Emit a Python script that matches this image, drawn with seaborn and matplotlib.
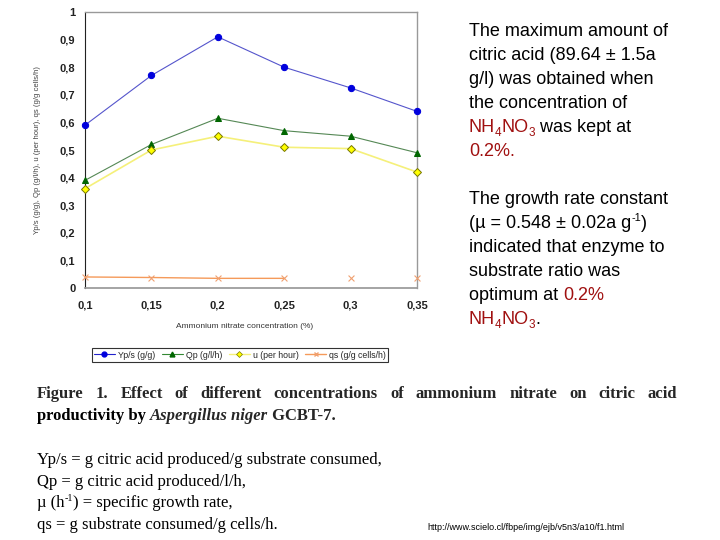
import matplotlib
matplotlib.use("Agg")
import matplotlib.pyplot as plt
import seaborn as sns
import pandas as pd
import numpy as np
from matplotlib.lines import Line2D

# ---- data ----
conc = [0.10, 0.15, 0.20, 0.25, 0.30, 0.35]
yps = [0.59, 0.77, 0.91, 0.80, 0.725, 0.64]
qp = [0.39, 0.52, 0.615, 0.57, 0.55, 0.49]
mu = [0.36, 0.50, 0.55, 0.51, 0.505, 0.42]
qs = [0.040, 0.038, 0.035, 0.035, 0.035, 0.035]
series_names = ["Yp/s (g/g)", "Qp (g/l/h)", "u (per hour)", "qs (g/g cells/h)"]
x_ticks = [0.1, 0.15, 0.2, 0.25, 0.3, 0.35]
y_ticks = [0, 0.1, 0.2, 0.3, 0.4, 0.5, 0.6, 0.7, 0.8, 0.9, 1.0]

sns.set_theme(style="white")
plt.rcParams["font.family"] = ["Liberation Sans", "DejaVu Sans"]

fig = plt.figure(figsize=(7.2, 5.4), dpi=100)
ax = fig.add_axes([85/720, 1-288/540, (417-85)/720, (288-12)/540])

df = pd.DataFrame({"conc": conc, "yps": yps, "qp": qp, "mu": mu, "qs": qs})

sns.lineplot(data=df, x="conc", y="yps", ax=ax, color="#5555cc", lw=0.8,
             marker="o", markersize=4.5, markerfacecolor="#0000dd",
             markeredgecolor="#0000dd", legend=False)
sns.lineplot(data=df, x="conc", y="qp", ax=ax, color="#558855", lw=0.8,
             marker="^", markersize=5, markerfacecolor="#006600",
             markeredgecolor="#006600", legend=False)
sns.lineplot(data=df, x="conc", y="mu", ax=ax, color="#f5f07a", lw=1.2,
             marker="D", markersize=4, markerfacecolor="#ffff00",
             markeredgecolor="#777700", markeredgewidth=0.7, legend=False)
# qs: line shown only over the first part, markers on all points
sns.lineplot(data=df.iloc[:4], x="conc", y="qs", ax=ax, color="#f59a5a", lw=1.0,
             legend=False)
sns.scatterplot(data=df, x="conc", y="qs", ax=ax, color="#f0a070", marker="x",
                s=18, linewidth=0.8, legend=False)
for ln in ax.lines:
    ln.set_clip_on(False)
    ln.set_zorder(4)
for c in ax.collections:
    c.set_clip_on(False)
    c.set_zorder(4)

ax.set_xlim(0.1, 0.35)
ax.set_ylim(0, 1)
ax.set_xticks(x_ticks)
ax.set_yticks(y_ticks)
ax.set_xticklabels([f"{t:g}".replace(".", ",") for t in x_ticks],
                   fontsize=8, fontweight="bold", color="#222222")
ax.set_yticklabels([f"{t:g}".replace(".", ",") for t in y_ticks],
                   fontsize=8, fontweight="bold", color="#222222")
ax.tick_params(axis="both", direction="out", length=3, width=0.8, color="#333333", pad=4)
ax.tick_params(axis="x", pad=6)
for side in ["top", "right"]:
    ax.spines[side].set_color("#999999")
    ax.spines[side].set_linewidth(1.0)
ax.spines["left"].set_color("#222222")
ax.spines["bottom"].set_color("#999999")
ax.spines["left"].set_linewidth(0.8)
ax.set_xlabel("")
ax.set_ylabel("")
ax.grid(False)

fig.text(245/720, 1-327/540, "Ammonium nitrate concentration (%)", fontsize=6,
         ha="center", va="center", color="#333333")
fig.text(38/720, 1-150/540, "Yp/s (g/g), Qp (g/l/h), u (per hour), qs (g/g cells/h)",
         fontsize=5.5, rotation=90, ha="center", va="center", color="#444444")

handles = [
    Line2D([], [], color="#2222cc", lw=0.8, marker="o", markersize=3.5, markerfacecolor="#0000dd", markeredgecolor="#0000dd"),
    Line2D([], [], color="#338833", lw=0.8, marker="^", markersize=3.5, markerfacecolor="#006600", markeredgecolor="#006600"),
    Line2D([], [], color="#f5f07a", lw=1.0, marker="D", markersize=3, markerfacecolor="#ffff00", markeredgecolor="#777700", markeredgewidth=0.5),
    Line2D([], [], color="#f59a5a", lw=1.0, marker="x", markersize=3.5, markeredgecolor="#f0a070"),
]
leg = ax.legend(handles, series_names, loc="center", bbox_to_anchor=((240-85)/332, (288-355)/276),
                ncol=4, fontsize=6.3, frameon=True, fancybox=False, edgecolor="#000000",
                handlelength=2.4, handletextpad=0.35, columnspacing=0.75,
                borderpad=0.25, borderaxespad=0)
leg.get_frame().set_linewidth(0.8)

# ---- text helpers ----
def draw_pieces(x_px, y_px, pieces, size, family="Liberation Sans", weight="normal"):
    renderer = fig.canvas.get_renderer()
    x = x_px
    for txt, color, rel, dy in pieces:
        t = fig.text(x/720, 1-(y_px+dy)/540, txt, fontsize=size*rel, color=color,
                     family=family, ha="left", va="baseline", fontweight=weight)
        bb = t.get_window_extent(renderer=renderer)
        x += bb.width
    return x

K = "#000000"
R = "#a01010"
fs = 13.0
lines1 = [
    [("The maximum amount of", K, 1, 0)],
    [("citric acid (89.64 \u00b1 1.5a", K, 1, 0)],
    [("g/l) was obtained when", K, 1, 0)],
    [("the concentration of", K, 1, 0)],
    [("NH", R, 1, 0), ("4", R, 0.65, 4), ("NO", R, 1, 0), ("3", R, 0.65, 4), (" was kept at", K, 1, 0)],
    [("0.2%.", R, 1, 0)],
]
y0 = 36
for i, pcs in enumerate(lines1):
    draw_pieces(469, y0 + i*24, pcs, fs)

lines2 = [
    [("The growth rate constant", K, 1, 0)],
    [("(\u00b5 = 0.548 \u00b1 0.02a g", K, 1, 0), ("-1", K, 0.6, -7), (")", K, 1, 0)],
    [("indicated that enzyme to", K, 1, 0)],
    [("substrate ratio was", K, 1, 0)],
    [("optimum at ", K, 1, 0), ("0.2%", R, 1, 0)],
    [("NH", R, 1, 0), ("4", R, 0.65, 4), ("NO", R, 1, 0), ("3", R, 0.65, 4), (".", K, 1, 0)],
]
y0 = 204
for i, pcs in enumerate(lines2):
    draw_pieces(469, y0 + i*24, pcs, fs)

# caption, first line justified
renderer = fig.canvas.get_renderer()
cap_words = ["Figure", "1.", "Effect", "of", "different", "concentrations", "of",
             "ammonium", "nitrate", "on", "citric", "acid"]
serif = "Liberation Serif"
cfs = 12
widths = []
tobjs = []
for w in cap_words:
    t = fig.text(0, 0, w, fontsize=cfs, fontweight="bold", family=serif, va="baseline")
    widths.append(t.get_window_extent(renderer=renderer).width)
    tobjs.append(t)
left, right = 37, 677
gap = (right - left - sum(widths)) / (len(cap_words) - 1)
x = left
for t, w in zip(tobjs, widths):
    t.set_position((x/720, 1-398/540))
    x += w + gap
xx = draw_pieces(37, 420, [("productivity by ", K, 1, 0)], cfs, family=serif, weight="bold")
t = fig.text(xx/720, 1-420/540, "Aspergillus niger", fontsize=cfs, fontweight="bold",
             fontstyle="italic", family=serif, va="baseline")
xx += t.get_window_extent(renderer=renderer).width
fig.text(xx/720, 1-420/540, " GCBT-7.", fontsize=cfs, fontweight="bold", family=serif, va="baseline")

defs_y = [464, 486, 507, 529]
draw_pieces(37, defs_y[0], [("Yp/s = g citric acid produced/g substrate consumed,", K, 1, 0)], cfs, family=serif)
draw_pieces(37, defs_y[1], [("Qp = g citric acid produced/l/h,", K, 1, 0)], cfs, family=serif)
draw_pieces(37, defs_y[2], [("\u00b5 (h", K, 1, 0), ("-1", K, 0.6, -6), (") = specific growth rate,", K, 1, 0)], cfs, family=serif)
draw_pieces(37, defs_y[3], [("qs = g substrate consumed/g cells/h.", K, 1, 0)], cfs, family=serif)

fig.text(427/720, 1-530/540, "http://www.scielo.cl/fbpe/img/ejb/v5n3/a10/f1.html",
         fontsize=6.5, color="#000000", va="baseline")

fig.savefig("out.png", dpi=100)
